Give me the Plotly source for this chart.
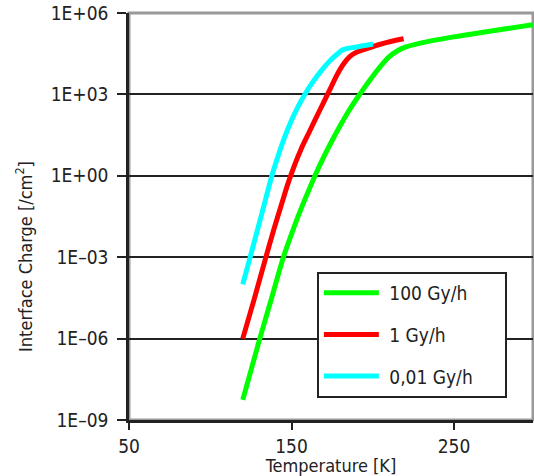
import plotly.graph_objects as go

# Interface charge versus temperature for three dose rates
temp_100 = [120, 130, 138, 145, 150, 155, 160, 165, 170, 175, 180, 185, 190, 195,
            200, 205, 210, 215, 220, 230, 250, 270, 298.6]
charge_100 = [5.5e-9, 7.9e-7, 3.5e-5, 1e-3, 7.1e-3, 0.045, 0.24, 1.2, 5.2, 20, 71,
              234, 676, 1820, 4680, 11200, 24000, 39800, 55000, 79400, 132000,
              204000, 372000]

temp_1 = [120, 127, 134, 139, 144, 148, 152, 156, 161, 167, 173, 178, 182, 186,
          190, 196, 203, 211, 219]
charge_1 = [1e-6, 2.8e-5, 8.9e-4, 1e-2, 0.095, 0.56, 2.6, 10, 42, 234, 1260, 5250,
            13200, 25100, 35500, 47900, 66100, 89100, 112000]

temp_001 = [120, 125, 130, 134, 138, 142, 146, 150, 154, 158, 163, 168, 173, 178,
            181.7, 190, 200.2]
charge_001 = [1e-4, 1.26e-3, 0.0166, 0.132, 1.05, 6.0, 28.8, 112, 355, 955, 2820,
              7080, 15800, 30200, 44700, 56200, 72400]

series_names = ["\u00a0100 Gy/h", "\u00a01 Gy/h", "\u00a00,01 Gy/h\u00a0\u00a0\u00a0\u00a0\u00a0"]
series_colors = ["#00ff00", "#ff0000", "#00ffff"]

y_tickvals = [1e-9, 1e-6, 1e-3, 1e0, 1e3, 1e6]
y_ticktext = ["1E\u201309", "1E\u201306", "1E\u201303", "1E+00", "1E+03", "1E+06"]
x_tickvals = [50, 150, 250]

FONT = "Liberation Sans Narrow, DejaVu Sans Condensed, Arial Narrow, sans-serif"
INK = "#222"

fig = go.Figure()
for i, (t, q) in enumerate([(temp_100, charge_100), (temp_1, charge_1),
                            (temp_001, charge_001)]):
    fig.add_trace(go.Scatter(
        x=t, y=q, mode="lines", name=series_names[i],
        legendgroup=str(i),
        line=dict(color=series_colors[i], width=5, shape="spline", smoothing=0.9),
    ))

fig.update_layout(
    width=534, height=476,
    margin=dict(l=129, r=1, t=13, b=56),
    paper_bgcolor="white", plot_bgcolor="white",
    font=dict(family=FONT, size=19, color=INK),
    showlegend=True,
    legend=dict(
        x=0.465, y=0.364, xanchor="left", yanchor="top",
        bordercolor=INK, borderwidth=2, bgcolor="white",
        font=dict(family=FONT, size=19, color=INK),
        traceorder="grouped", tracegroupgap=14,
        itemwidth=55,
    ),
    xaxis=dict(
        range=[50, 298.6], tickvals=x_tickvals,
        showgrid=False, zeroline=False,
        showline=True, linecolor=INK, linewidth=2.5,
        ticks="outside", ticklen=7, tickwidth=2, tickcolor=INK,
        tickfont=dict(family=FONT, size=19, color=INK),
        title=dict(text="Temperature [K]", standoff=6,
                   font=dict(family=FONT, size=18, color=INK)),
    ),
    yaxis=dict(
        type="log", range=[-9, 6],
        tickvals=y_tickvals, ticktext=y_ticktext,
        showgrid=True, gridcolor=INK, gridwidth=1.5,
        zeroline=False,
        showline=True, linecolor=INK, linewidth=2.5,
        ticks="outside", ticklen=9, tickwidth=2, tickcolor=INK,
        ticklabelstandoff=5,
        tickfont=dict(family=FONT, size=19, color=INK),
    ),
    annotations=[dict(
        text="Interface Charge [/cm<sup>2</sup>]", textangle=-90,
        xref="paper", yref="paper", x=-0.26, y=0.403,
        xanchor="center", yanchor="middle", showarrow=False,
        font=dict(family=FONT, size=18, color=INK),
    )],
    shapes=[dict(
        type="rect", xref="paper", yref="paper", x0=0, y0=0, x1=1, y1=1,
        line=dict(color="#999", width=3), layer="below",
    )],
)

fig.write_html("out.html")
